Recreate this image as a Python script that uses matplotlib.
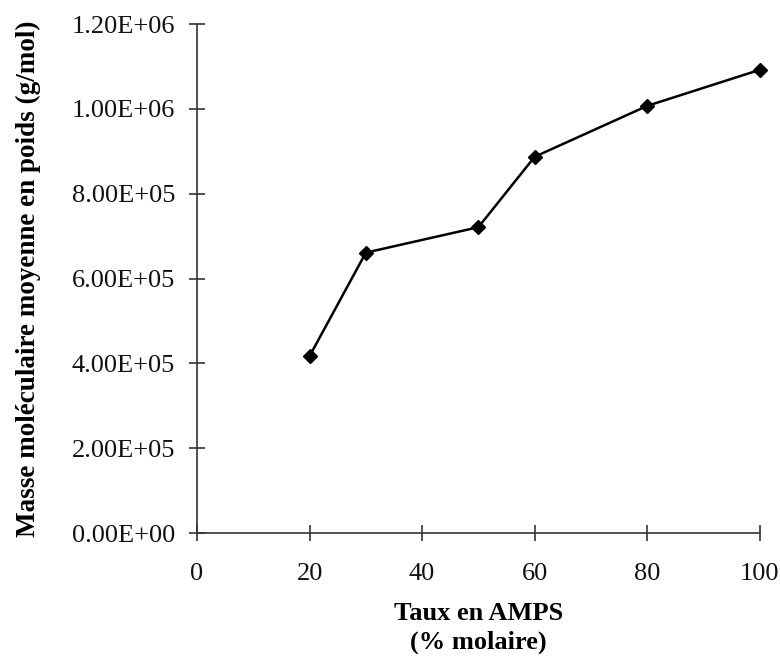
import matplotlib
matplotlib.use("Agg")
import matplotlib.pyplot as plt

taux_amps = [20, 30, 50, 60, 80, 100]
masse_mw = [4.17e5, 6.61e5, 7.21e5, 8.87e5, 1.007e6, 1.092e6]
x_ticks = [0, 20, 40, 60, 80, 100]
y_ticks = [0, 2e5, 4e5, 6e5, 8e5, 1.0e6, 1.2e6]
y_ticklabels = ["0.00E+00", "2.00E+05", "4.00E+05", "6.00E+05", "8.00E+05", "1.00E+06", "1.20E+06"]

plt.rcParams['font.family'] = ['Liberation Serif', 'DejaVu Serif']

fig = plt.figure(figsize=(7.8, 6.6), dpi=100)
ax = fig.add_axes([0.2526, 0.1924, 0.974 - 0.2526, 0.9636 - 0.1924])

ax.plot(taux_amps, masse_mw, color='black', lw=1.8, marker='D', ms=6.8,
        mfc='black', mec='black', clip_on=False, zorder=3)

ax.set_xlim(0, 100)
ax.set_ylim(0, 1.2e6)
ax.set_xticks(x_ticks)
ax.set_xticklabels([str(v) for v in x_ticks])
ax.set_yticks(y_ticks)
ax.set_yticklabels(y_ticklabels)

for s in ['top', 'right']:
    ax.spines[s].set_visible(False)
for s in ['left', 'bottom']:
    ax.spines[s].set_color('#333333')
    ax.spines[s].set_linewidth(1.2)

ax.tick_params(axis='both', direction='inout', length=11.5, width=1.2,
               color='#333333', labelsize=19, labelcolor='#111111')
ax.tick_params(axis='y', pad=10)
ax.tick_params(axis='x', pad=16)

ax.set_ylabel("Masse moléculaire moyenne en poids (g/mol)", fontsize=19.5,
              fontweight='bold', labelpad=22)
ax.set_xlabel("Taux en AMPS\n(% molaire)", fontsize=19, fontweight='bold',
              labelpad=12, linespacing=1.3)

fig.savefig("out.png", dpi=100)
